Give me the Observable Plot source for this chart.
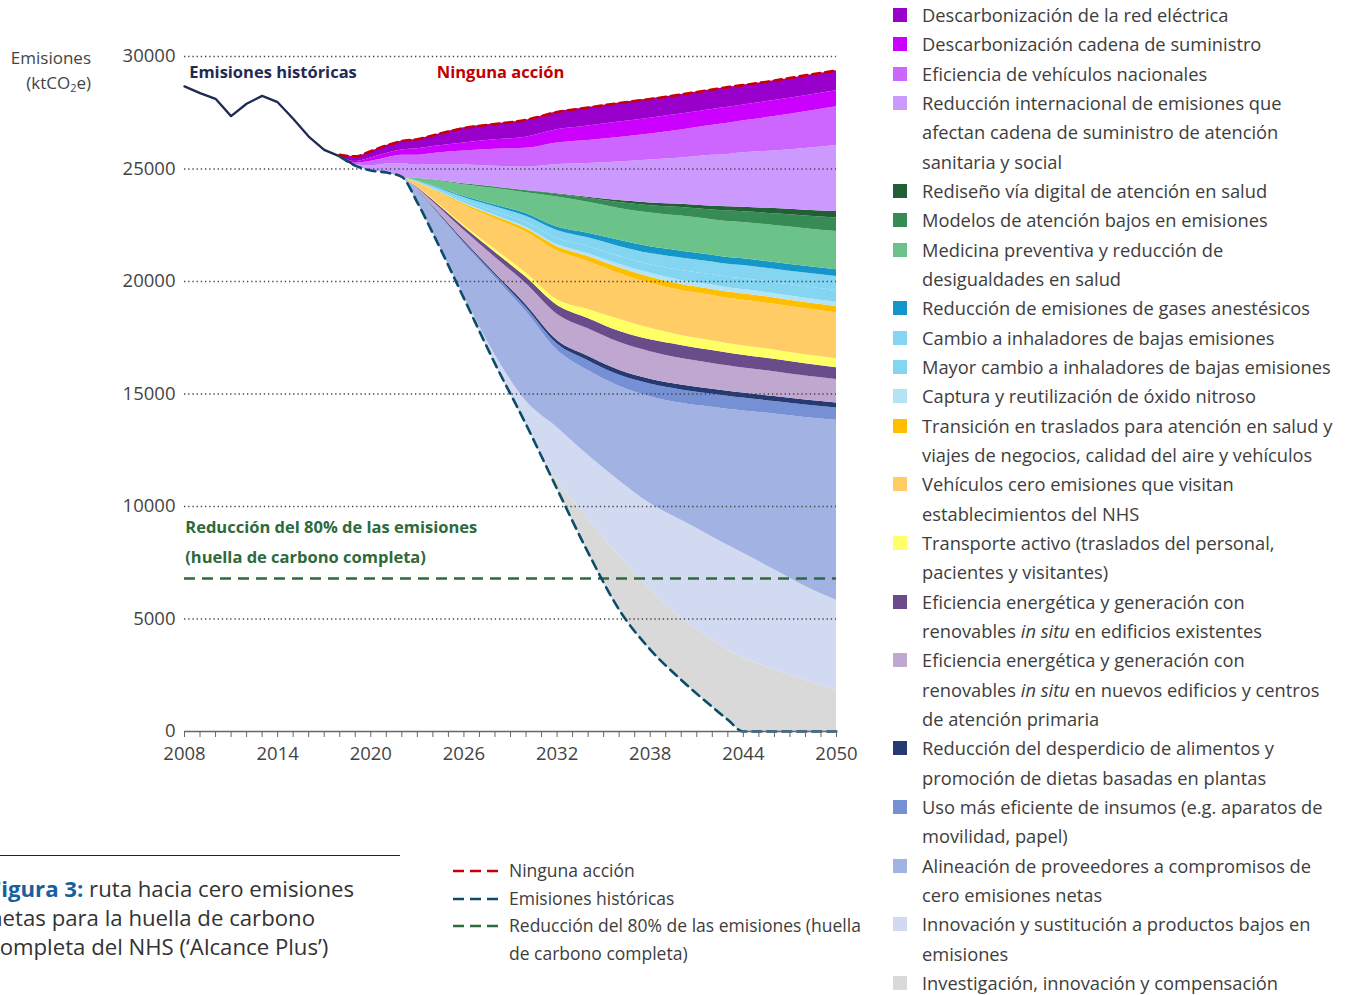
<!DOCTYPE html>
<html><head><meta charset="utf-8">
<script src="https://cdn.jsdelivr.net/npm/d3@7"></script>
<script src="https://cdn.jsdelivr.net/npm/@observablehq/plot@0.6"></script>
<style>
body{margin:0;background:#fff;overflow:hidden;font-family:"Open Sans",Lato,sans-serif;color:#3d3d3d}
#wrap{position:relative;width:1351px;height:995px;overflow:hidden;background:#fff}
#chart{position:absolute;left:0;top:0}
#ylab{position:absolute;right:1260px;top:45px;text-align:right;font-size:17px;line-height:25px;color:#444;white-space:nowrap}
#ylab sub{font-size:11px;vertical-align:-3px;line-height:0}
#legend{position:absolute;left:893px;top:0px;font-size:18.3px;line-height:29.33px;color:#3d3d3d}
.le{display:flex;align-items:flex-start;white-space:nowrap}
.sw{width:14px;height:14px;margin-top:8px;margin-right:15px;flex:none}
#rule{position:absolute;left:0;top:855px;width:400px;height:1px;background:#222}
#caption{position:absolute;left:-11px;top:874px;font-size:22.2px;line-height:29px;color:#333;white-space:nowrap}
#caption b{color:#17609e}
#lineLegend{position:absolute;left:452px;top:857px;font-size:17.5px;line-height:27.6px;color:#3d3d3d}
.ll{display:flex;align-items:flex-start;white-space:nowrap}
.ll svg{flex:none;margin-top:7px;margin-right:11px}
</style></head><body>
<div id="wrap">
<div id="chart"></div>
<div id="ylab">Emisiones<br>(ktCO<sub>2</sub>e)</div>
<div id="legend"></div>
<div id="rule"></div>
<div id="caption"><b>Figura 3:</b> ruta hacia cero emisiones<br>netas para la huella de carbono<br>completa del NHS (‘Alcance Plus’)</div>
<div id="lineLegend"></div>
</div>
<script>
// ---- data (ktCO2e) ----
const years = [2018, 2019, 2020, 2021, 2022, 2023, 2024, 2026, 2028, 2030, 2032, 2034, 2036, 2038, 2040, 2042, 2043, 2044, 2046, 2048, 2050];
const pathway = [25560, 25150, 24930, 24840, 24650, 23510, 22140, 19250, 16350, 13650, 10780, 7950, 5410, 3640, 2290, 1090, 520, 0, 0, 0, 0];
const noAction = [25630, 25560, 25790, 26040, 26240, 26320, 26490, 26820, 27000, 27180, 27530, 27730, 27930, 28110, 28310, 28530, 28640, 28730, 28930, 29160, 29380];
const histYears = [2008, 2009, 2010, 2011, 2012, 2013, 2014, 2015, 2016, 2017, 2018, 2019];
const historical = [28670, 28370, 28120, 27350, 27900, 28250, 27970, 27230, 26440, 25850, 25560, 25150];
const target80 = 6800;

const redElectrica = [70, 220, 290, 360, 400, 420, 490, 670, 710, 760, 800, 820, 840, 860, 870, 880, 880, 880, 880, 890, 890];
const cadena = [0, 70, 150, 200, 240, 290, 310, 360, 420, 490, 580, 640, 690, 700, 710, 710, 710, 710, 710, 710, 710];
const vehiculosNac = [0, 70, 190, 270, 360, 440, 510, 620, 760, 840, 960, 1020, 1090, 1160, 1240, 1330, 1380, 1420, 1530, 1640, 1730];
const internacional = [0, 40, 220, 380, 600, 580, 660, 840, 920, 1040, 1300, 1500, 1710, 1910, 2060, 2260, 2330, 2420, 2560, 2740, 2930];
const rediseno = [0, 0, 0, 0, 0, 0, 0, 0, 0, 10, 30, 50, 90, 120, 140, 170, 190, 200, 230, 260, 290];
const modelos = [0, 0, 0, 0, 0, 10, 20, 40, 70, 80, 110, 180, 260, 320, 380, 430, 460, 480, 520, 560, 600];
const medicina = [0, 0, 0, 0, 0, 110, 240, 510, 730, 930, 1340, 1380, 1420, 1510, 1560, 1580, 1600, 1610, 1640, 1670, 1700];
const anestesicos = [0, 0, 0, 0, 0, 10, 30, 60, 80, 120, 150, 200, 270, 300, 300, 300, 300, 300, 300, 300, 300];
const cambioInh = [0, 0, 0, 0, 0, 30, 60, 140, 210, 280, 360, 400, 440, 490, 560, 570, 580, 590, 600, 610, 620];
const mayorCambio = [0, 0, 0, 0, 0, 20, 50, 100, 160, 210, 270, 310, 350, 380, 440, 460, 470, 480, 490, 510, 520];
const capturaN2O = [0, 0, 0, 0, 0, 10, 20, 40, 50, 70, 90, 120, 160, 180, 180, 190, 190, 190, 190, 190, 190];
const transicion = [0, 0, 0, 0, 0, 10, 30, 70, 110, 140, 180, 220, 250, 270, 270, 270, 270, 280, 280, 280, 280];
const vehCero = [0, 0, 0, 0, 0, 180, 410, 880, 1360, 1820, 2180, 2130, 2040, 2000, 2000, 2010, 2010, 2020, 2030, 2040, 2040];
const transporte = [0, 0, 0, 0, 0, 20, 40, 80, 130, 180, 240, 400, 530, 510, 440, 440, 430, 430, 420, 410, 400];
const existentes = [0, 0, 0, 0, 0, 30, 70, 140, 220, 290, 400, 460, 490, 530, 580, 570, 560, 560, 550, 540, 530];
const nuevos = [0, 0, 0, 0, 0, 90, 210, 460, 700, 940, 1160, 1220, 1240, 1220, 1180, 1150, 1140, 1120, 1100, 1070, 1040];
const desperdicio = [0, 0, 0, 0, 0, 10, 30, 60, 80, 120, 160, 200, 220, 220, 220, 220, 220, 220, 220, 220, 220];
const insumos = [0, 0, 0, 0, 0, 20, 40, 80, 130, 180, 270, 440, 490, 560, 590, 580, 580, 570, 560, 550, 550];
const alineacion = [0, 0, 0, 0, 0, 520, 1090, 2300, 3420, 3980, 3450, 3760, 4200, 4750, 5200, 5760, 6040, 6330, 6920, 7510, 8000];
const innovacion = [0, 0, 0, 0, 0, 10, 40, 130, 400, 1040, 2320, 2810, 3350, 3800, 4350, 4560, 4650, 4640, 4450, 4180, 4000];
const investigacion = [0, 0, 0, 0, 0, 0, 0, 0, 0, 0, 410, 1520, 2390, 2690, 2750, 3000, 3110, 3280, 2740, 2270, 1830];

// legend order = stack order, top to bottom
const layerLabels = [
  "Descarbonización de la red eléctrica",
  "Descarbonización cadena de suministro",
  "Eficiencia de vehículos nacionales",
  "Reducción internacional de emisiones que|afectan cadena de suministro de atención|sanitaria y social",
  "Rediseño vía digital de atención en salud",
  "Modelos de atención bajos en emisiones",
  "Medicina preventiva y reducción de|desigualdades en salud",
  "Reducción de emisiones de gases anestésicos",
  "Cambio a inhaladores de bajas emisiones",
  "Mayor cambio a inhaladores de bajas emisiones",
  "Captura y reutilización de óxido nitroso",
  "Transición en traslados para atención en salud y|viajes de negocios, calidad del aire y vehículos",
  "Vehículos cero emisiones que visitan|establecimientos del NHS",
  "Transporte activo (traslados del personal,|pacientes y visitantes)",
  "Eficiencia energética y generación con|renovables *in situ* en edificios existentes",
  "Eficiencia energética y generación con|renovables *in situ* en nuevos edificios y centros|de atención primaria",
  "Reducción del desperdicio de alimentos y|promoción de dietas basadas en plantas",
  "Uso más eficiente de insumos (e.g. aparatos de|movilidad, papel)",
  "Alineación de proveedores a compromisos de|cero emisiones netas",
  "Innovación y sustitución a productos bajos en|emisiones",
  "Investigación, innovación y compensación"
];
const layerColors = ["#9900cc", "#cc00ff", "#cc66ff", "#cc99ff", "#235f35", "#378b55", "#6bc389", "#1496c8", "#84d5f2", "#84d5f2", "#b2e4f6", "#ffbf00", "#ffcc66", "#ffff66", "#6b4c8b", "#bfa7d0", "#253a73", "#7590d4", "#a2b2e3", "#d2daf1", "#d9d9d9"];
const layerSeries = [redElectrica, cadena, vehiculosNac, internacional, rediseno, modelos, medicina, anestesicos, cambioInh, mayorCambio, capturaN2O, transicion, vehCero, transporte, existentes, nuevos, desperdicio, insumos, alineacion, innovacion, investigacion];

const yTicks = [0, 5000, 10000, 15000, 20000, 25000, 30000];
const xLabelYears = [2008, 2014, 2020, 2026, 2032, 2038, 2044, 2050];
const xTickYears = d3.range(2008, 2051);
const lineLegend = [
  {label: "Ninguna acción", color: "#c80000"},
  {label: "Emisiones históricas", color: "#0c4c6b"},
  {label: "Reducción del 80% de las emisiones (huella|de carbono completa)", color: "#2d6a3c"}
];

// ---- stacked areas: from the pathway upwards ----
const areaMarks = [];
let base = pathway.slice();
for (let k = layerSeries.length - 1; k >= 0; k--) {
  const v = layerSeries[k];
  const data = years.map((yr, i) => ({year: yr, y1: base[i], y2: base[i] + v[i]}));
  areaMarks.push(Plot.areaY(data, {x: "year", y1: "y1", y2: "y2", fill: layerColors[k], curve: "monotone-x"}));
  base = base.map((b, i) => b + v[i]);
}

const pathData = years.map((yr, i) => ({year: yr, v: pathway[i]}));
const noActionData = years.map((yr, i) => ({year: yr, v: noAction[i]}));
const histData = histYears.map((yr, i) => ({year: yr, v: historical[i]}));

const annotations = [
  {x: 2008.3, y: 29290, text: "Emisiones históricas", color: "#1e2b55"},
  {x: 2024.25, y: 29290, text: "Ninguna acción", color: "#c00000"},
  {x: 2008.05, y: 9070, text: "Reducción del 80% de las emisiones", color: "#2d6a3c"},
  {x: 2008.05, y: 7740, text: "(huella de carbono completa)", color: "#2d6a3c"}
];

const plot = Plot.plot({
  width: 870, height: 790,
  marginLeft: 184, marginRight: 34, marginTop: 56, marginBottom: 59,
  x: {domain: [2008, 2050], label: null},
  y: {domain: [0, 30000], label: null},
  style: {fontFamily: "'Open Sans', Lato, sans-serif", fontSize: "18.5px", color: "#444", background: "#fff", overflow: "visible"},
  marks: [
    ...areaMarks,
    Plot.ruleY(yTicks.filter(d => d > 0), {x1: 2008, x2: 2050, stroke: "#444", strokeWidth: 1.3, strokeDasharray: "1.3,2.9"}),
    Plot.ruleY([target80], {x1: 2008, x2: 2050, stroke: "#2d6a3c", strokeWidth: 2.6, strokeDasharray: "11,7"}),
    Plot.line(histData, {x: "year", y: "v", stroke: "#1e2b52", strokeWidth: 2.3}),
    Plot.line(pathData, {x: "year", y: "v", stroke: "#0c4c6b", strokeWidth: 2.6, strokeDasharray: "9,6", curve: "monotone-x"}),
    Plot.line(noActionData, {x: "year", y: "v", stroke: "#c80000", strokeWidth: 2.6, strokeDasharray: "8,5", curve: "monotone-x"}),
    Plot.ruleY([0], {x1: 2008, x2: 2050, stroke: "#666", strokeWidth: 1.3}),
    Plot.axisX(xTickYears, {tickSize: 6, stroke: "#666", tickFormat: () => "", label: null}),
    Plot.axisX(xLabelYears, {tickSize: 0, tickPadding: 15, tickFormat: d => String(d), fill: "#444", label: null}),
    Plot.axisY(yTicks, {tickSize: 0, tickPadding: 9, tickFormat: d => String(d), fill: "#444", label: null}),
    Plot.text(annotations, {x: "x", y: "y", text: "text", fill: "color", textAnchor: "start", fontWeight: "bold", fontSize: 16.5})
  ]
});
document.getElementById("chart").appendChild(plot);

// ---- legends ----
const leg = document.getElementById("legend");
layerLabels.forEach((lab, i) => {
  const e = document.createElement("div");
  e.className = "le";
  const sw = document.createElement("div");
  sw.className = "sw";
  sw.style.background = layerColors[i];
  const t = document.createElement("div");
  t.innerHTML = lab.split("|").join("<br>").replace(/\*(.+?)\*/g, "<i>$1</i>");
  e.appendChild(sw); e.appendChild(t);
  leg.appendChild(e);
});
const ll = document.getElementById("lineLegend");
lineLegend.forEach(d => {
  const e = document.createElement("div");
  e.className = "ll";
  e.innerHTML = `<svg width="46" height="14"><line x1="1" y1="7" x2="46" y2="7" stroke="${d.color}" stroke-width="2.6" stroke-dasharray="11,6"/></svg><div>${d.label.split("|").join("<br>")}</div>`;
  ll.appendChild(e);
});
</script>
</body></html>
